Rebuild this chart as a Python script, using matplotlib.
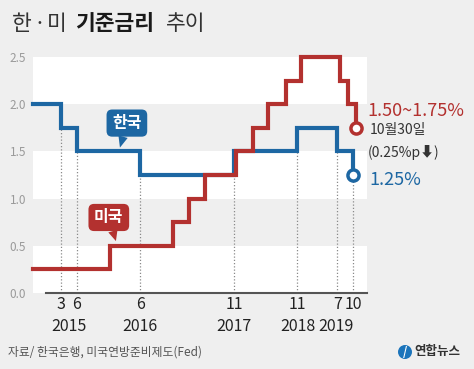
import pandas as pd
import matplotlib.pyplot as plt
import matplotlib.dates as mdates
from matplotlib.patches import Ellipse

plt.rcParams['font.family'] = ['Noto Sans CJK KR', 'DejaVu Sans']

# 한국 기준금리 (변경일, %)
kr_dates = ['2014-10-01', '2015-03-12', '2015-06-11', '2016-06-09', '2017-11-30',
            '2018-11-30', '2019-07-18', '2019-10-16']
kr_rates = [2.0, 1.75, 1.5, 1.25, 1.5, 1.75, 1.5, 1.25]

# 미국 기준금리 상단 (변경일, %)
us_dates = ['2014-10-01', '2015-12-16', '2016-12-14', '2017-03-15', '2017-06-14',
            '2017-12-13', '2018-03-21', '2018-06-13', '2018-09-26', '2018-12-19',
            '2019-07-31', '2019-09-18', '2019-10-30']
us_rates = [0.25, 0.5, 0.75, 1.0, 1.25, 1.5, 1.75, 2.0, 2.25, 2.5, 2.25, 2.0, 1.75]

y_ticks = [0.0, 0.5, 1.0, 1.5, 2.0, 2.5]
years = [2015, 2016, 2017, 2018, 2019]

BLUE = '#1d67a3'
RED = '#b3312f'
BG = '#efefef'

kr_x = mdates.date2num(pd.to_datetime(kr_dates))
us_x = mdates.date2num(pd.to_datetime(us_dates))

fig = plt.figure(figsize=(4.74, 3.69), dpi=100, facecolor=BG)
ax = fig.add_axes([33 / 474, 76 / 369, 334 / 474, 236 / 369])
ax.set_facecolor('white')
ax.set_xlim(mdates.date2num(pd.Timestamp('2014-10-01')),
            mdates.date2num(pd.Timestamp('2020-01-04')))
ax.set_ylim(0, 2.5)

# 회색 띠
for lo in (0.5, 1.5):
    ax.axhspan(lo, lo + 0.5, color=BG, lw=0, zorder=0)

# 한국 변경 시점 점선
for i in range(1, len(kr_x)):
    ax.vlines(kr_x[i], 0, min(kr_rates[i - 1], kr_rates[i]), colors='#8a8a8a',
              linestyles=(0, (1, 1.6)), lw=0.9, zorder=1)

ax.step(kr_x, kr_rates, where='post', color=BLUE, lw=3, clip_on=False,
        solid_joinstyle='miter', zorder=3)
ax.step(us_x, us_rates, where='post', color=RED, lw=3, clip_on=False,
        solid_joinstyle='miter', zorder=4)
ax.plot(kr_x[-1], kr_rates[-1], 'o', ms=8, mfc='white', mec=BLUE, mew=2.5,
        clip_on=False, zorder=5)
ax.plot(us_x[-1], us_rates[-1], 'o', ms=8, mfc='white', mec=RED, mew=2.5,
        clip_on=False, zorder=5)

# 축
for s in ax.spines.values():
    s.set_visible(False)
ax.plot([0.039, 1], [0, 0], transform=ax.transAxes, color='#555555', lw=1.5,
        clip_on=False, zorder=2)

ax.set_yticks(y_ticks)
ax.set_yticklabels([f'{v:.1f}' for v in y_ticks], color='#9a9a9a', fontsize=8.5)
ax.set_xticks(kr_x[1:])
ax.set_xticklabels([str(d.month) for d in pd.to_datetime(kr_dates[1:])],
                   fontsize=11.5, color='#222222')
ax.tick_params(axis='y', length=0, pad=5)
ax.tick_params(axis='x', length=0, pad=2.5)

# 연도 라벨
tick_dates = pd.to_datetime(kr_dates[1:])
for y in years:
    xs = kr_x[1:][tick_dates.year == y]
    off = -6.5 if y == 2019 else 0
    ax.annotate(str(y), xy=(xs.mean(), 0), xycoords=('data', 'axes fraction'),
                xytext=(off, -24), textcoords='offset points', ha='center', va='center',
                fontsize=11.5, color='#222222')

# 말풍선
ax.annotate('한국', xy=(mdates.date2num(pd.Timestamp('2016-02-13')), 1.54),
            xytext=(mdates.date2num(pd.Timestamp('2016-03-24')), 1.80),
            ha='center', va='center', color='white', fontsize=11.5, fontweight='bold',
            bbox=dict(boxstyle='round,pad=0.35,rounding_size=0.35', fc=BLUE, ec='none'),
            arrowprops=dict(arrowstyle='wedge,tail_width=0.6', fc=BLUE, ec='none',
                            shrinkA=0, shrinkB=0), zorder=6)
ax.annotate('미국', xy=(mdates.date2num(pd.Timestamp('2016-01-21')), 0.55),
            xytext=(mdates.date2num(pd.Timestamp('2015-12-11')), 0.80),
            ha='center', va='center', color='white', fontsize=11.5, fontweight='bold',
            bbox=dict(boxstyle='round,pad=0.35,rounding_size=0.35', fc=RED, ec='none'),
            arrowprops=dict(arrowstyle='wedge,tail_width=0.6', fc=RED, ec='none',
                            shrinkA=0, shrinkB=0), zorder=6)

# 오른쪽 설명
fig.text(367 / 474, 1 - 111 / 369, '1.50~1.75%', color=RED, fontsize=13,
         va='center')
fig.text(370 / 474, 1 - 130 / 369, '10월30일', color='#333333', fontsize=10,
         va='center')
fig.text(368 / 474, 1 - 152 / 369, '(0.25%p⬇)', color='#333333', fontsize=10,
         va='center')
fig.text(369 / 474, 1 - 180 / 369, '1.25%', color=BLUE, fontsize=13,
         va='center')

# 제목
ty = 1 - 23.5 / 369
fig.text(12 / 474, ty, '한', fontsize=15.5, color='#333333', va='center')
fig.text(40 / 474, ty, '·', fontsize=15.5, color='#333333', va='center', ha='center')
fig.text(47 / 474, ty, '미', fontsize=15.5, color='#333333', va='center')
fig.text(75 / 474, ty, '기준금리', fontsize=15.5, color='#1a1a1a', fontweight='bold',
         va='center')
fig.text(166 / 474, ty, '추이', fontsize=15.5, color='#333333', va='center')

# 출처, 로고
fig.text(8 / 474, 1 - 352 / 369, '자료/ 한국은행, 미국연방준비제도(Fed)', fontsize=8.5,
         color='#555555', va='center', style='italic')
fig.add_artist(Ellipse((405 / 474, 1 - 352 / 369), 14 / 474, 14 / 369,
                       transform=fig.transFigure, fc='#1b74bb', ec='none'))
fig.text(405 / 474, 1 - 352 / 369, '/', fontsize=8, color='white', fontweight='bold',
         ha='center', va='center')
fig.text(414 / 474, 1 - 352 / 369, '연합뉴스', fontsize=9, color='#333333',
         fontweight='bold', va='center')

fig.savefig('out.png', dpi=100, facecolor=BG)
